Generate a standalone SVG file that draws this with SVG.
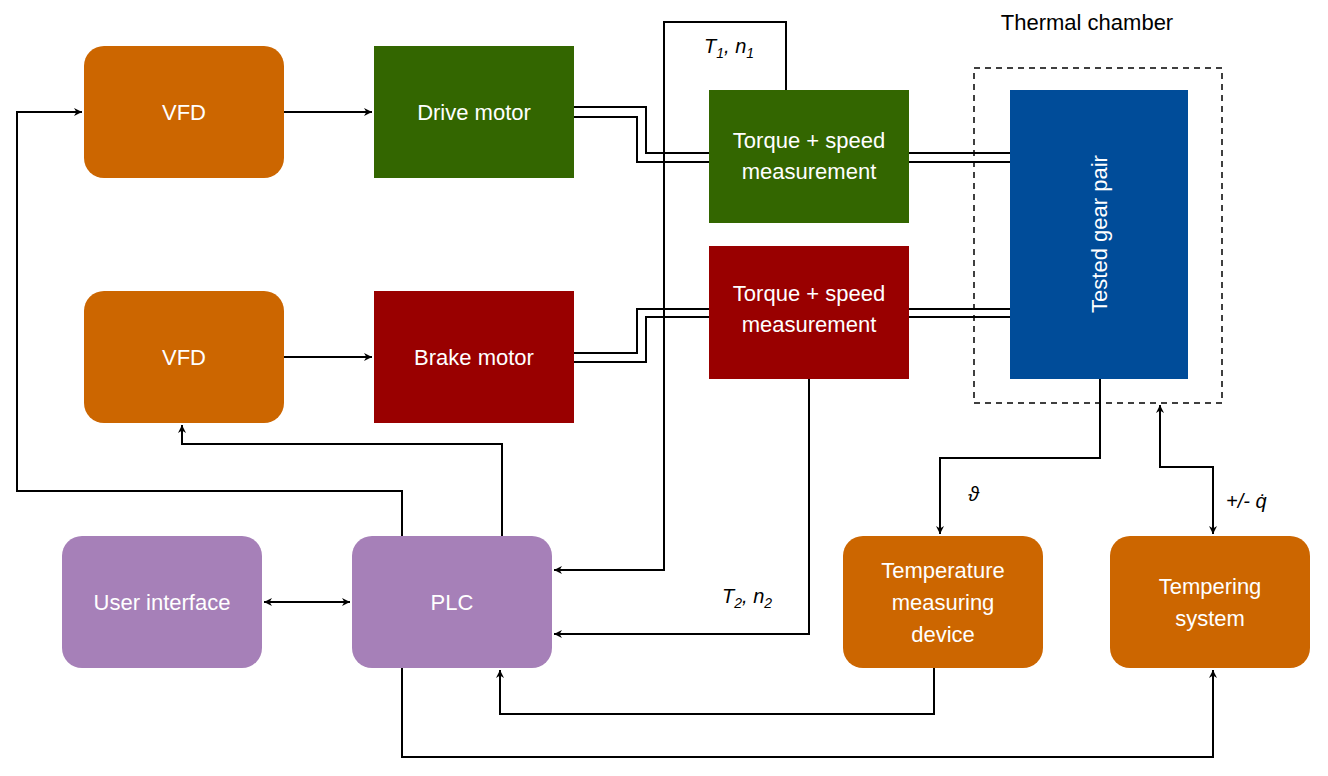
<svg xmlns="http://www.w3.org/2000/svg" width="1328" height="776" viewBox="0 0 1328 776">
<defs>
<marker id="a" viewBox="0 0 10 10" refX="10" refY="5" markerWidth="8" markerHeight="8" orient="auto-start-reverse" markerUnits="userSpaceOnUse"><path d="M0,0 L10,5 L0,10 L3,5 Z" fill="#000"/></marker>
<style>
.n{stroke:none}
.t{font-family:"Liberation Sans",Arial,sans-serif;font-size:22px;fill:#fff;text-anchor:middle}
.l{font-family:"Liberation Sans",Arial,sans-serif;font-size:20px;fill:#000;font-style:italic}
.c{fill:none;stroke:#000;stroke-width:2}
.s{fill:none;stroke:#000;stroke-width:2}
</style>
</defs>
<rect width="1328" height="776" fill="#fff"/>
<g id="connectors">
<path class="c" d="M284,112 H372" marker-end="url(#a)"/>
<path class="c" d="M284,357 H372" marker-end="url(#a)"/>
<path class="s" d="M574,107 H646 V153 H709 M574,117 H637 V162 H709"/>
<path class="s" d="M909,153 H1010 M909,162 H1010"/>
<path class="s" d="M709,309 H637 V353 H574 M709,317 H646 V362 H574"/>
<path class="s" d="M909,309 H1010 M909,317 H1010"/>
<path class="c" d="M786,90 V22 H664 V570 H554" marker-end="url(#a)"/>
<path class="c" d="M809,379 V634 H554" marker-end="url(#a)"/>
<path class="c" d="M1100,379 V458 H940 V534" marker-end="url(#a)"/>
<path class="c" d="M1160,405 V467 H1213 V534" marker-start="url(#a)" marker-end="url(#a)"/>
<path class="c" d="M934,668 V714 H500 V670" marker-end="url(#a)"/>
<path class="c" d="M402,668 V757 H1213 V670" marker-end="url(#a)"/>
<path class="c" d="M402,536 V491 H17 V112 H82" marker-end="url(#a)"/>
<path class="c" d="M502,536 V444 H182 V425" marker-end="url(#a)"/>
<path class="c" d="M264,602 H350" marker-start="url(#a)" marker-end="url(#a)"/>
</g>
<g id="chamber">
<rect x="974" y="68" width="248" height="335" fill="none" stroke="#000" stroke-width="1.5" stroke-dasharray="6,5"/>
<text x="1087" y="30" style="font-family:'Liberation Sans',Arial,sans-serif;font-size:22px;text-anchor:middle">Thermal chamber</text>
</g>
<g id="vfd1"><rect x="84" y="46" width="200" height="132" rx="20" fill="#CC6600"/><text class="t" x="184" y="120">VFD</text></g>
<g id="vfd2"><rect x="84" y="291" width="200" height="132" rx="20" fill="#CC6600"/><text class="t" x="184" y="365">VFD</text></g>
<g id="drive"><rect x="374" y="46" width="200" height="132" fill="#336600"/><text class="t" x="474" y="120">Drive motor</text></g>
<g id="brake"><rect x="374" y="291" width="200" height="132" fill="#990000"/><text class="t" x="474" y="365">Brake motor</text></g>
<g id="torque1"><rect x="709" y="90" width="200" height="133" fill="#336600"/><text class="t" x="809" y="148">Torque + speed</text><text class="t" x="809" y="179">measurement</text></g>
<g id="torque2"><rect x="709" y="246" width="200" height="133" fill="#990000"/><text class="t" x="809" y="301">Torque + speed</text><text class="t" x="809" y="332">measurement</text></g>
<g id="gear"><rect x="1010" y="90" width="178" height="289" fill="#004C99"/><text class="t" x="0" y="0" transform="translate(1107,234) rotate(-90)">Tested gear pair</text></g>
<g id="ui"><rect x="62" y="536" width="200" height="132" rx="20" fill="#A680B8"/><text class="t" x="162" y="610">User interface</text></g>
<g id="plc"><rect x="352" y="536" width="200" height="132" rx="20" fill="#A680B8"/><text class="t" x="452" y="610">PLC</text></g>
<g id="temp"><rect x="843" y="536" width="200" height="132" rx="20" fill="#CC6600"/><text class="t" x="943" y="578">Temperature</text><text class="t" x="943" y="610">measuring</text><text class="t" x="943" y="642">device</text></g>
<g id="tempering"><rect x="1110" y="536" width="200" height="132" rx="20" fill="#CC6600"/><text class="t" x="1210" y="594">Tempering</text><text class="t" x="1210" y="626">system</text></g>
<g id="labels">
<text class="l" x="704" y="53">T<tspan font-size="14" dy="5">1</tspan><tspan dy="-5">, n</tspan><tspan font-size="14" dy="5">1</tspan></text>
<text class="l" x="722" y="603">T<tspan font-size="14" dy="5">2</tspan><tspan dy="-5">, n</tspan><tspan font-size="14" dy="5">2</tspan></text>
<text class="l" x="968" y="501" style="font-style:italic">ϑ</text>
<text class="l" x="1226" y="508">+/- q̇</text>
</g>
</svg>
